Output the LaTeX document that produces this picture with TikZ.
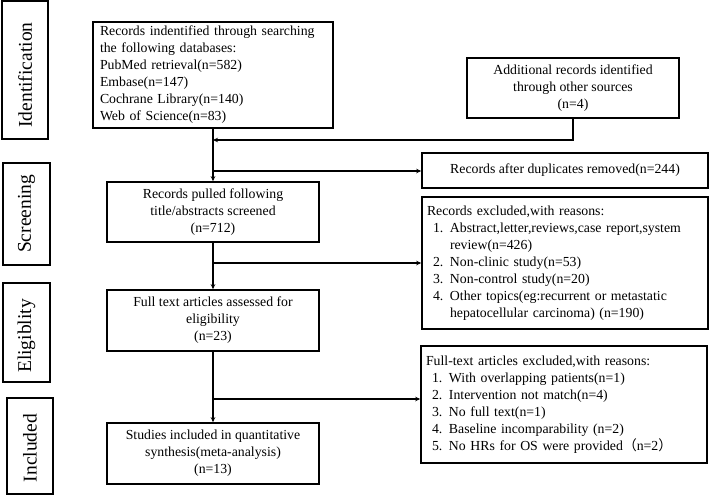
\documentclass[tikz,border=0pt]{standalone}
\usepackage{fontspec}
\setmainfont{Liberation Serif}
\newfontfamily\cjkfont{Noto Sans CJK SC}
\usetikzlibrary{arrows.meta}
\newcommand\flitem[1]{\hspace*{6pt}\makebox[17pt][l]{#1}}
\newcommand\flcont{\hspace*{23pt}}
\begin{document}
\begin{tikzpicture}[x=1pt,y=-1pt,
 box/.style={draw, line width=1.6pt, inner sep=0pt, font=\fontsize{13.8}{17}\selectfont, align=center},
 lbox/.style={box, align=left},
 side/.style={draw, line width=1.6pt, inner sep=0pt},
 sidetext/.style={inner sep=0pt, font=\fontsize{19.5}{22}\selectfont, rotate=90},
 conn/.style={line width=1.3pt},
 arr/.style={conn, -{Stealth[length=5pt,width=4.5pt]}}]
\useasboundingbox (0,0) rectangle (709,496);

% side labels
\node[side, minimum width=46pt, minimum height=138pt] (sid) at (25,70) {};
\node[sidetext] (sidt) at (25,75) {Identification};
\node[side, minimum width=47pt, minimum height=102pt] (sscr) at (26.5,214) {};
\node[sidetext] (sscrt) at (26.5,214) {Screening};
\node[side, minimum width=47pt, minimum height=99pt] (selig) at (26.5,332.5) {};
\node[sidetext] (seligt) at (26.5,336) {Eligiblity};
\node[side, minimum width=46pt, minimum height=96pt] (sinc) at (30,446) {};
\node[sidetext] (sinct) at (30,448) {Included};

% main boxes
\node[lbox, text width=226pt, inner xsep=7pt, minimum height=106pt] (rec) at (213,75)
 {Records indentified through searching\\the following databases:\\PubMed retrieval(n=582)\\Embase(n=147)\\Cochrane Library(n=140)\\Web of Science(n=83)};
\node[box, minimum width=212pt, minimum height=60pt] (add) at (573,88)
 {Additional records identified\\through other sources\\(n=4)};
\node[box, minimum width=286pt, minimum height=35pt] (dup) at (565,170.5)
 {Records after duplicates removed(n=244)};
\node[box, minimum width=212pt, minimum height=60pt] (pull) at (213,212)
 {Records pulled following\\title/abstracts screened\\(n=712)};
\node[lbox, text width=276pt, inner xsep=5pt, minimum height=132pt] (ex1) at (565,263)
 {Records excluded,with reasons:\\
  \flitem{1.}Abstract,letter,reviews,case report,system\\
  \flcont review(n=426)\\
  \flitem{2.}Non-clinic study(n=53)\\
  \flitem{3.}Non-control study(n=20)\\
  \flitem{4.}Other topics(eg:recurrent or metastatic\\
  \flcont hepatocellular carcinoma) (n=190)};
\node[box, minimum width=212pt, minimum height=61pt] (full) at (213,320.5)
 {Full text articles assessed for\\eligibility\\(n=23)};
\node[lbox, text width=276pt, inner xsep=5pt, minimum height=117pt] (ex2) at (564,404.5)
 {Full-text articles excluded,with reasons:\\
  \flitem{1.}With overlapping patients(n=1)\\
  \flitem{2.}Intervention not match(n=4)\\
  \flitem{3.}No full text(n=1)\\
  \flitem{4.}Baseline incomparability (n=2)\\
  \flitem{5.}No HRs for OS were provided{\cjkfont （}n=2{\cjkfont ）}};
\node[box, minimum width=212pt, minimum height=61pt] (stud) at (213,453.5)
 {Studies included in quantitative\\synthesis(meta-analysis)\\(n=13)};

% connectors
\coordinate (j1) at (213,140);
\coordinate (j2) at (213,171);
\coordinate (j3) at (213,263);
\coordinate (j4) at (213,399);
\draw[arr] (rec.south) -- (pull.north);
\draw[arr] (pull.south) -- (full.north);
\draw[arr] (full.south) -- (stud.north);
\draw[arr] (add.south) |- (j1);
\draw[arr] (j2) -- (j2 -| dup.west);
\draw[arr] (j3) -- (j3 -| ex1.west);
\draw[arr] (j4) -- (j4 -| ex2.west);
\end{tikzpicture}
\end{document}
